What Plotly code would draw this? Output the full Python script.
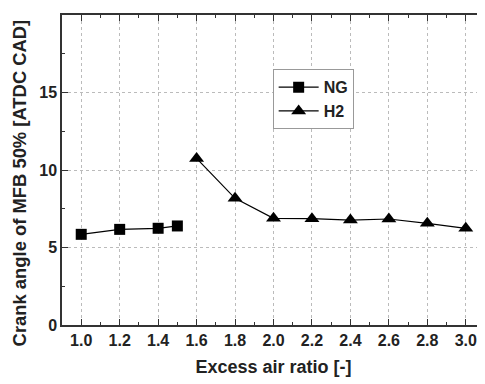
import plotly.graph_objects as go

ng_x = [1.0, 1.2, 1.4, 1.5]
ng_y = [5.85, 6.17, 6.24, 6.39]
h2_x = [1.6, 1.8, 2.0, 2.2, 2.4, 2.6, 2.8, 3.0]
h2_y = [10.75, 8.17, 6.88, 6.86, 6.77, 6.84, 6.56, 6.24]

x_ticks = [1.0, 1.2, 1.4, 1.6, 1.8, 2.0, 2.2, 2.4, 2.6, 2.8, 3.0]
y_ticks = [0, 5, 10, 15, 20]

x_title = "Excess air ratio [-]"
y_title = "Crank angle of MFB 50% [ATDC CAD]"

FONT = "Liberation Sans, Arial, sans-serif"

fig = go.Figure()
fig.add_trace(go.Scatter(x=ng_x, y=ng_y, name="NG", mode="lines+markers",
                         line=dict(color="black", width=1.2),
                         marker=dict(symbol="square", size=11, color="black")))
fig.add_trace(go.Scatter(x=h2_x, y=h2_y, name="H2", mode="lines+markers",
                         line=dict(color="black", width=1.2),
                         marker=dict(symbol="triangle-up", size=13, color="black")))

axis_common = dict(
    showline=True, linecolor="#333333", linewidth=1.5, mirror="ticks",
    ticks="inside", ticklen=6, tickcolor="#333333", tickwidth=1.2,
    showgrid=True, gridcolor="#bbbbbb", griddash="dot", gridwidth=1,
    zeroline=False, automargin=False,
    tickfont=dict(family=FONT, size=16, color="#222222", weight="bold"),
)

fig.update_xaxes(
    range=[0.9, 3.1], tickvals=x_ticks, ticktext=[f"{v:.1f}" for v in x_ticks],
    minor=dict(dtick=0.1, tick0=0.9, ticks="inside", ticklen=3, tickcolor="#333333", showgrid=False),
    title=dict(text=x_title, font=dict(family=FONT, size=18, color="#222222", weight="bold"), standoff=12),
    **axis_common)
fig.update_yaxes(
    range=[0, 20], tickvals=y_ticks,
    minor=dict(dtick=2.5, tick0=0, ticks="inside", ticklen=3, tickcolor="#333333", showgrid=False),
    **axis_common)

fig.add_annotation(text=y_title, xref="paper", yref="paper", x=-0.1017, y=0.46,
                   xanchor="center", yanchor="middle", textangle=-90, showarrow=False,
                   font=dict(family=FONT, size=18.4, color="#222222", weight="bold"))

# page body adds an 8px offset; size/margins compensate so plot area sits at x 62-485, y 15-325
fig.update_layout(
    width=477, height=376,
    margin=dict(l=54, r=0, t=7, b=59),
    paper_bgcolor="white", plot_bgcolor="white",
    font=dict(family=FONT),
    legend=dict(x=0.498, y=0.825, xanchor="left", yanchor="top",
                bgcolor="white", bordercolor="#999999", borderwidth=1,
                font=dict(family=FONT, size=16, color="#222222", weight="bold"),
                itemwidth=40, tracegroupgap=0),
    showlegend=True,
)

fig.write_html("out.html")
